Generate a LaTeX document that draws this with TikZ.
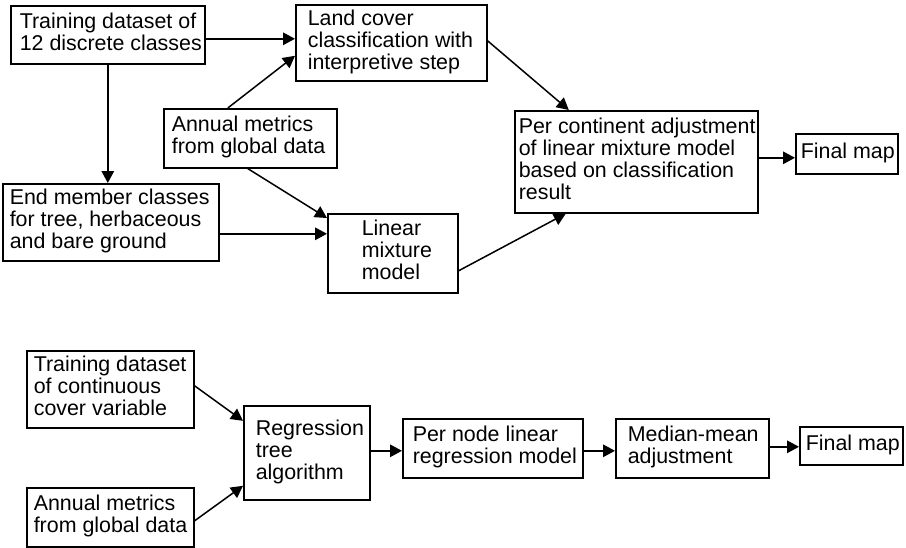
\documentclass[tikz,border=0pt]{standalone}
\usepackage{fontspec}
\setmainfont{Liberation Sans}
\usetikzlibrary{arrows.meta}

% left-aligned multi-line label, placed pad pt in from the box's left edge
\newcommand\boxlines[3]{\makebox[#1pt][l]{\hspace{#2pt}\begin{tabular}{@{}l@{}}#3\end{tabular}}}

\tikzset{
  blk/.style={draw, line width=1.6pt, inner sep=0pt, anchor=north west,
              font=\fontsize{21.4}{22}\selectfont},
  arr/.style={line width=1.5pt, -{Triangle[length=12pt,width=12.5pt]}}
}

\begin{document}
\begin{tikzpicture}[x=1pt, y=-1pt]
\useasboundingbox (0,0) rectangle (906,547);

% --- discrete-class workflow ---
\node[blk, minimum width=194pt, minimum height=58pt] (trn) at (10,5)
  {\boxlines{194}{9}{Training dataset of\\12 discrete classes}};
\node[blk, minimum width=191pt, minimum height=76pt] (lc) at (295,4)
  {\boxlines{191}{12}{Land cover\\classification with\\interpretive step}};
\node[blk, minimum width=173pt, minimum height=59pt] (ann) at (163,108)
  {\boxlines{173}{8}{Annual metrics\\from global data}};
\node[blk, minimum width=216pt, minimum height=77pt] (emc) at (2,183)
  {\boxlines{216}{7}{End member classes\\for tree, herbaceous\\and bare ground}};
\node[blk, minimum width=130pt, minimum height=79pt] (lmm) at (327,213)
  {\boxlines{130}{34}{Linear\\mixture\\model}};
\node[blk, minimum width=243pt, minimum height=102pt] (pca) at (514,110)
  {\boxlines{243}{4}{Per continent adjustment\\of linear mixture model\\based on classification\\result}};
\node[blk, minimum width=102pt, minimum height=40pt] (fm1) at (795,133)
  {\boxlines{102}{5}{Final map}};

\draw[arr] ([yshift=-4]trn.east) -- ([yshift=-4]trn.east -| lc.west);
\draw[arr] (trn.south) -- (trn.south |- emc.north);
\draw[arr] ([xshift=-22.5]ann.north) -- ([yshift=-13]lc.west);
\draw[arr] ([xshift=-2.5]ann.south) -- ([yshift=-5]lmm.north west);
\draw[arr] ([yshift=-11.5]emc.east) -- ([yshift=-11.5]emc.east -| lmm.west);
\draw[arr] ([yshift=2]lc.east) -- ([xshift=-67.5]pca.north);
\draw[arr] ([yshift=-17.5]lmm.east) -- ([xshift=-70.5]pca.south);
\draw[arr] ([yshift=4]pca.east) -- ([yshift=4]pca.east -| fm1.west);

% --- continuous-cover workflow ---
\node[blk, minimum width=167pt, minimum height=77pt] (trc) at (26,350)
  {\boxlines{167}{7}{Training dataset\\of continuous\\cover variable}};
\node[blk, minimum width=167pt, minimum height=59pt] (ann2) at (26,487)
  {\boxlines{167}{7}{Annual metrics\\from global data}};
\node[blk, minimum width=126pt, minimum height=94pt] (reg) at (243,405)
  {\boxlines{126}{12}{Regression\\tree\\algorithm}};
\node[blk, minimum width=180pt, minimum height=59pt] (pnl) at (402,418)
  {\boxlines{180}{10}{Per node linear\\regression model}};
\node[blk, minimum width=153pt, minimum height=59pt] (mma) at (615,418)
  {\boxlines{153}{12}{Median-mean\\adjustment}};
\node[blk, minimum width=103pt, minimum height=38pt] (fm2) at (799,426)
  {\boxlines{103}{6}{Final map}};

\draw[arr] ([yshift=3.5]trc.east) -- ([yshift=32]reg.west);
\draw[arr] ([yshift=-3.5]ann2.east) -- ([yshift=-33]reg.west);
\draw[arr] ([yshift=2]reg.east) -- ([yshift=2]reg.east -| pnl.west);
\draw[arr] ([yshift=-2.5]pnl.east) -- ([yshift=-2.5]pnl.east -| mma.west);
\draw[arr] ([yshift=1.5]mma.east) -- ([yshift=1.5]mma.east -| fm2.west);
\end{tikzpicture}
\end{document}
